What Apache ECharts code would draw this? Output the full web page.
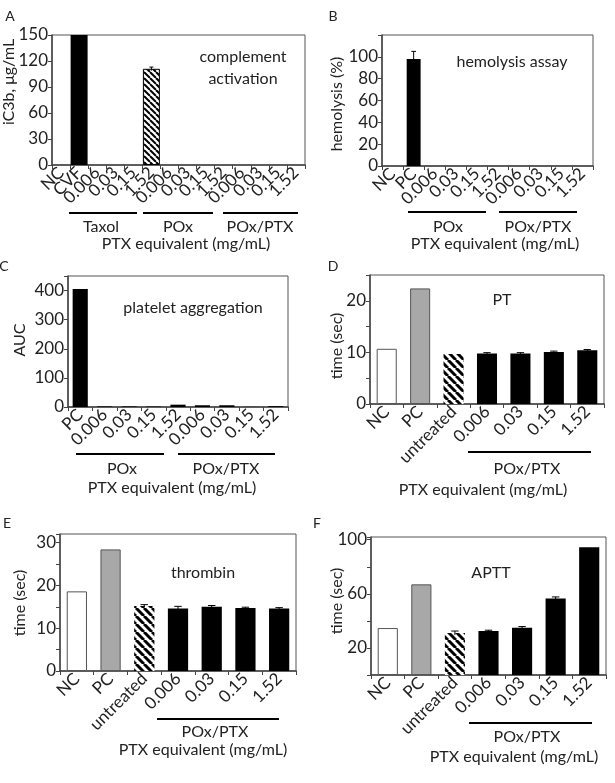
<!DOCTYPE html>
<html>
<head>
<meta charset="utf-8">
<script src="https://cdn.jsdelivr.net/npm/echarts@6/dist/echarts.min.js"></script>
<style>
html,body{margin:0;padding:0;background:#fff}
#container{width:615px;height:783px}
</style>
</head>
<body>
<div id="container"></div>
<script>
// categories
const catsA = ['NC','CVF','0.006','0.03','0.15','1.52','0.006','0.03','0.15','1.52','0.006','0.03','0.15','1.52'];
const catsB = ['NC','PC','0.006','0.03','0.15','1.52','0.006','0.03','0.15','1.52'];
const catsC = ['PC','0.006','0.03','0.15','1.52','0.006','0.03','0.15','1.52'];
const catsDEF = ['NC','PC','untreated','0.006','0.03','0.15','1.52'];

// values + error bars
const valsA = [0,150,0,0,0,111,0,0,0,0,0,0,0,0];
const errsA = [0,0,0,0,0,2,0,0,0,0,0,0,0,0];
const valsB = [0,98,0,0,0,0,0,0,0,0];
const errsB = [0,7,0,0,0,0,0,0,0,0];
const valsC = [405,2,2,1.5,8,6,6,0.5,3];
const errsC = [0,0,0,0,0,0,0,0,0];
const valsD = [10.7,22.4,9.7,9.8,9.8,10.1,10.4];
const errsD = [0,0,0,0.15,0.15,0.15,0.15];
const valsE = [18.6,28.4,15.2,14.6,15.0,14.7,14.6];
const errsE = [0,0,0.3,0.5,0.3,0.2,0.2];
const valsF = [34.7,67,31,32.5,35,56.5,94.5];
const errsF = [0,0,1.5,0.6,0.8,1.2,0];

const FONT = 'Lato';
const TXT = '#222';
var myChart = echarts.init(document.getElementById('container'));

// hatch pattern "\\\\"
function hatch(size, lw) {
	var c = document.createElement('canvas');
	c.width = size; c.height = size;
	var ctx = c.getContext('2d');
	ctx.fillStyle = '#fff';
	ctx.fillRect(0, 0, size, size);
	ctx.strokeStyle = '#000';
	ctx.lineWidth = lw;
	[-size, 0, size].forEach(function (o) {
		ctx.beginPath();
		ctx.moveTo(o, 0);
		ctx.lineTo(o + size, size);
		ctx.stroke();
	});
	return c;
}
const hatchThin = {image: hatch(6, 2), repeat: 'repeat'};
const hatchWide = {image: hatch(8, 3), repeat: 'repeat'};

const styles = {
	black: {color: '#000'},
	white: {color: '#fff', borderColor: '#555', borderWidth: 1},
	grey: {color: '#a8a8a8', borderColor: '#555', borderWidth: 1},
	hatchA: {color: hatchThin, borderColor: '#000', borderWidth: 1},
	hatch: {color: hatchWide, borderWidth: 0}
};
function kindDEF(i) { return i === 0 ? 'white' : i === 1 ? 'grey' : i === 2 ? 'hatch' : 'black'; }

// grids: [left, top, width, height]
const grids = [
	[52, 35, 253, 130],
	[382, 35, 211, 131],
	[68, 276, 220, 131],
	[370, 275, 234, 129],
	[60, 534, 236, 137],
	[371, 537, 235, 138]
];

const yConf = [
	{max: 150, interval: 30, show: function (v) { return true; }},
	{max: 120, interval: 20, show: function (v) { return v <= 100; }},
	{max: 450, interval: 100, show: function (v) { return v <= 400; }},
	{max: 25, interval: 5, show: function (v) { return v % 10 === 0; }},
	{max: 32, interval: 5, show: function (v) { return v % 10 === 0; }},
	{max: 102, interval: 20, show: function (v) { return v % 40 === 20; }}
];

const panels = [
	{cats: catsA, vals: valsA, errs: errsA, kind: function (i) { return i === 5 ? 'hatchA' : 'black'; }, gap: '6%'},
	{cats: catsB, vals: valsB, errs: errsB, kind: function () { return 'black'; }, gap: '34%'},
	{cats: catsC, vals: valsC, errs: errsC, kind: function () { return 'black'; }, gap: '38%'},
	{cats: catsDEF, vals: valsD, errs: errsD, kind: kindDEF, gap: '40%'},
	{cats: catsDEF, vals: valsE, errs: errsE, kind: kindDEF, gap: '40%'},
	{cats: catsDEF, vals: valsF, errs: errsF, kind: kindDEF, gap: '40%'}
];

function errRender(params, api) {
	var x = api.value(0), v = api.value(1), e = api.value(2);
	var lo = api.coord([x, v - e]);
	var hi = api.coord([x, v + e]);
	var w = api.size([1, 0])[0] * 0.22;
	var st = {stroke: '#000', lineWidth: 1};
	return {
		type: 'group',
		children: [
			{type: 'line', shape: {x1: hi[0], y1: lo[1], x2: hi[0], y2: hi[1]}, style: st},
			{type: 'line', shape: {x1: hi[0] - w / 2, y1: hi[1], x2: hi[0] + w / 2, y2: hi[1]}, style: st}
		]
	};
}

var grid = [], xAxis = [], yAxis = [], series = [];
panels.forEach(function (p, k) {
	var g = grids[k];
	grid.push({left: g[0], top: g[1], width: g[2], height: g[3], show: true, borderColor: '#555', borderWidth: 1, backgroundColor: 'transparent'});
	xAxis.push({
		type: 'category', gridIndex: k, data: p.cats,
		axisLine: {lineStyle: {color: '#444', width: 1.5}},
		axisTick: {show: true, length: 4, lineStyle: {color: '#444'}},
		axisLabel: {interval: 0, rotate: 45, margin: 5, fontFamily: FONT, fontSize: 17, color: TXT}
	});
	var yc = yConf[k];
	yAxis.push({
		type: 'value', gridIndex: k, min: 0, max: yc.max, interval: yc.interval,
		splitLine: {show: false},
		axisLine: {show: true, lineStyle: {color: '#444', width: 1.5}},
		axisTick: {show: true, length: 4, lineStyle: {color: '#444'}},
		axisLabel: {margin: 4, fontFamily: FONT, fontSize: 17, color: TXT, formatter: function (v) { return yc.show(v) ? String(v) : ''; }}
	});
	series.push({
		type: 'bar', xAxisIndex: k, yAxisIndex: k, barCategoryGap: p.gap, clip: true,
		data: p.vals.map(function (v, i) { return {value: v, itemStyle: styles[p.kind(i)]}; }),
		silent: true
	});
	var ed = [];
	p.errs.forEach(function (e, i) { if (e > 0) ed.push([i, p.vals[i], e]); });
	series.push({
		type: 'custom', xAxisIndex: k, yAxisIndex: k, renderItem: errRender,
		encode: {x: 0, y: 1}, data: ed, z: 5, silent: true
	});
});

// annotations
function txt(x, y, s, size, rot) {
	return {type: 'text', x: x, y: y, rotation: rot || 0, silent: true,
		style: {text: s, font: (size || 16) + 'px ' + FONT, fill: TXT, align: 'center', verticalAlign: 'middle', textAlign: 'center', textVerticalAlign: 'middle'}};
}
function bar(x1, x2, y) {
	return {type: 'line', silent: true, shape: {x1: x1, y1: y, x2: x2, y2: y}, style: {stroke: '#000', lineWidth: 2}};
}
const R = Math.PI / 2;
var graphic = [
	// A
	txt(10, 16, 'A', 14), txt(9, 82, 'iC3b, μg/mL', 16, R),
	txt(243, 57, 'complement'), txt(243, 79, 'activation'),
	bar(69, 137, 213), bar(143, 213, 213), bar(223, 298, 213),
	txt(101, 227, 'Taxol'), txt(178, 227, 'POx'), txt(260, 227, 'POx/PTX'),
	txt(186, 244, 'PTX equivalent (mg/mL)'),
	// B
	txt(333, 16, 'B', 14), txt(337, 104, 'hemolysis (%)', 16, R),
	txt(512, 62, 'hemolysis assay'),
	bar(408, 486, 212), bar(499, 577, 212),
	txt(448, 227, 'POx'), txt(538, 227, 'POx/PTX'),
	txt(495, 244, 'PTX equivalent (mg/mL)'),
	// C
	txt(4, 266, 'C', 14), txt(20, 340, 'AUC', 16, R),
	txt(193, 308, 'platelet aggregation'),
	bar(76, 164, 454), bar(178, 275, 454),
	txt(122, 469, 'POx'), txt(226, 469, 'POx/PTX'),
	txt(172, 488, 'PTX equivalent (mg/mL)'),
	// D
	txt(333, 266, 'D', 14), txt(337, 346, 'time (sec)', 16, R),
	txt(502, 300, 'PT'),
	bar(468, 591, 452),
	txt(527, 469, 'POx/PTX'),
	txt(483, 490, 'PTX equivalent (mg/mL)'),
	// E
	txt(7, 523, 'E', 14), txt(20, 603, 'time (sec)', 16, R),
	txt(203, 573, 'thrombin'),
	bar(157, 279, 719),
	txt(215, 732, 'POx/PTX'),
	txt(203, 750, 'PTX equivalent (mg/mL)'),
	// F
	txt(317, 523, 'F', 14), txt(337, 601, 'time (sec)', 16, R),
	txt(491, 573, 'APTT'),
	bar(469, 592, 723),
	txt(527, 737, 'POx/PTX'),
	txt(514, 757, 'PTX equivalent (mg/mL)')
];

myChart.setOption({
	animation: false,
	backgroundColor: '#fff',
	textStyle: {fontFamily: FONT},
	grid: grid,
	xAxis: xAxis,
	yAxis: yAxis,
	series: series,
	graphic: graphic
});
</script>
</body>
</html>
